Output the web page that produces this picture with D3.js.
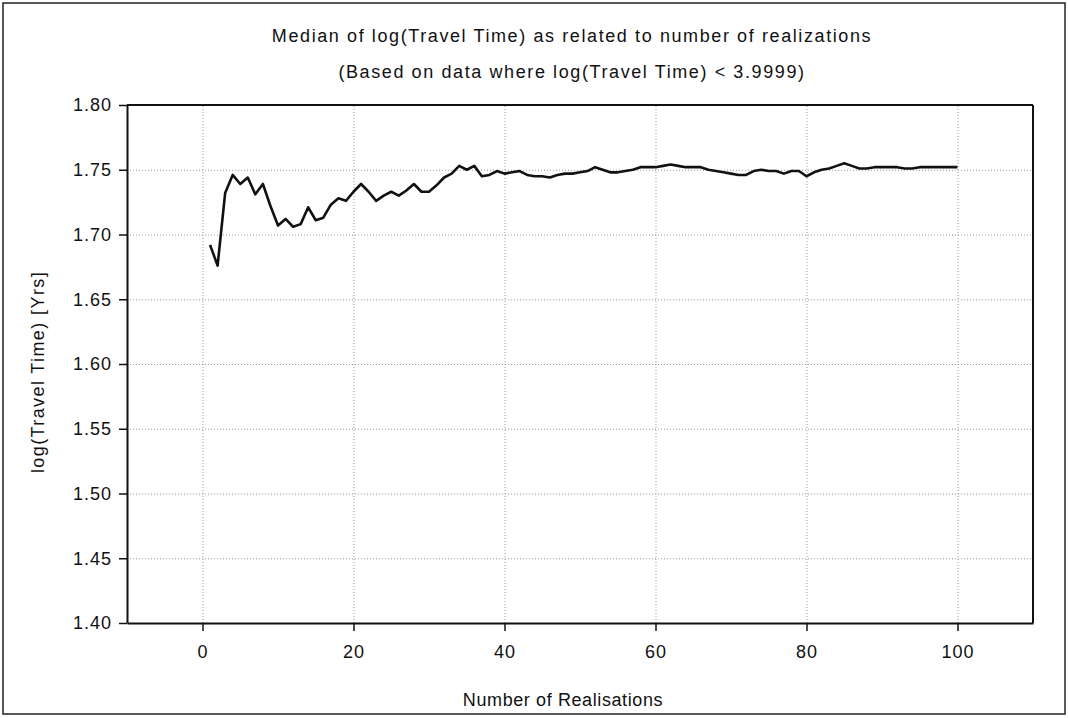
<!DOCTYPE html>
<html>
<head>
<meta charset="utf-8">
<script src="https://cdnjs.cloudflare.com/ajax/libs/d3/7.8.5/d3.min.js"></script>
<style>
	body { margin: 0; background: #fff; }
	text { font-family: "Liberation Sans", Arial, sans-serif; fill: #111; }
</style>
</head>
<body>
<div id="chart"></div>
<script>
//-------------------------------------
// data
//-------------------------------------
var realisations = d3.range(1, 101);

var medianLogTime = [
	1.692, 1.676, 1.732, 1.746, 1.739, 1.744, 1.731, 1.739, 1.722, 1.707,
	1.712, 1.706, 1.708, 1.721, 1.711, 1.713, 1.723, 1.728, 1.726, 1.733,
	1.739, 1.733, 1.726, 1.730, 1.733, 1.730, 1.734, 1.739, 1.733, 1.733,
	1.738, 1.744, 1.747, 1.753, 1.750, 1.753, 1.745, 1.746, 1.749, 1.747,
	1.748, 1.749, 1.746, 1.745, 1.745, 1.744, 1.746, 1.747, 1.747, 1.748,
	1.749, 1.752, 1.750, 1.748, 1.748, 1.749, 1.750, 1.752, 1.752, 1.752,
	1.753, 1.754, 1.753, 1.752, 1.752, 1.752, 1.750, 1.749, 1.748, 1.747,
	1.746, 1.746, 1.749, 1.750, 1.749, 1.749, 1.747, 1.749, 1.749, 1.745,
	1.748, 1.750, 1.751, 1.753, 1.755, 1.753, 1.751, 1.751, 1.752, 1.752,
	1.752, 1.752, 1.751, 1.751, 1.752, 1.752, 1.752, 1.752, 1.752, 1.752
];

var xTicks = [0, 20, 40, 60, 80, 100];
var yTicks = [1.40, 1.45, 1.50, 1.55, 1.60, 1.65, 1.70, 1.75, 1.80];

var titleLines = [
	"Median of log(Travel Time) as related to number of realizations",
	"(Based on data where log(Travel Time) < 3.9999)"
];
var xTitle = "Number of Realisations";
var yTitle = "log(Travel Time) [Yrs]";

//-------------------------------------
// field
//-------------------------------------
var width = 1068;
var height = 718;
var margin = { top: 105, right: 35, bottom: 95, left: 127 };

var svg = d3.select("#chart")
	.append("svg")
	.attr("width", width)
	.attr("height", height)
	.style("background", "#fff");

// outer frame
svg.append("rect")
	.attr("x", 3).attr("y", 3)
	.attr("width", width - 6).attr("height", height - 7)
	.style("fill", "none")
	.style("stroke", "#222")
	.style("stroke-width", 1.5);

var x = d3.scaleLinear()
	.domain([-10, 110])
	.range([margin.left, width - margin.right]);

var y = d3.scaleLinear()
	.domain([1.40, 1.80])
	.range([height - margin.bottom, margin.top]);

//-------------------------------------
// grid
//-------------------------------------
svg.append("g")
	.attr("transform", "translate(0," + y(1.40) + ")")
	.call(d3.axisBottom(x).tickValues(xTicks).tickSize(-(y(1.40) - y(1.80))).tickFormat(""))
	.call(function(g){ g.select(".domain").remove(); })
	.selectAll("line")
	.style("stroke", "#999")
	.style("stroke-dasharray", "1,2");

svg.append("g")
	.attr("transform", "translate(" + x(-10) + ",0)")
	.call(d3.axisLeft(y).tickValues(yTicks.slice(1, -1)).tickSize(-(x(110) - x(-10))).tickFormat(""))
	.call(function(g){ g.select(".domain").remove(); })
	.selectAll("line")
	.style("stroke", "#999")
	.style("stroke-dasharray", "1,2");

//-------------------------------------
// axes
//-------------------------------------
var xAxis = svg.append("g")
	.attr("transform", "translate(0," + y(1.40) + ")")
	.call(d3.axisBottom(x).tickValues(xTicks).tickSize(8).tickPadding(14).tickSizeOuter(0));

var yAxis = svg.append("g")
	.attr("transform", "translate(" + x(-10) + ",0)")
	.call(d3.axisLeft(y).tickValues(yTicks).tickFormat(d3.format(".2f")).tickSize(8).tickPadding(7).tickSizeOuter(0));

[xAxis, yAxis].forEach(function(g){
	g.select(".domain").style("stroke", "#111").style("stroke-width", 2);
	g.selectAll(".tick line").style("stroke", "#111").style("stroke-width", 1.5);
	g.selectAll(".tick text")
		.style("font-size", "18px")
		.style("letter-spacing", "1px")
		.style("fill", "#111")
		.style("font-family", "'Liberation Sans', Arial, sans-serif");
});

// top and right edges of the plot box
svg.append("line")
	.attr("x1", x(-10)).attr("x2", x(110))
	.attr("y1", y(1.80)).attr("y2", y(1.80))
	.style("stroke", "#111").style("stroke-width", 2);

svg.append("line")
	.attr("x1", x(110)).attr("x2", x(110))
	.attr("y1", y(1.80)).attr("y2", y(1.40))
	.style("stroke", "#111").style("stroke-width", 2);

//-------------------------------------
// line
//-------------------------------------
var line = d3.line()
	.x(function(d, i){ return x(realisations[i]); })
	.y(function(d){ return y(d); });

svg.append("path")
	.datum(medianLogTime)
	.attr("d", line)
	.style("fill", "none")
	.style("stroke", "#111")
	.style("stroke-width", 2.6)
	.style("stroke-linejoin", "round");

//-------------------------------------
// titles
//-------------------------------------
svg.selectAll(".title")
	.data(titleLines)
	.enter()
	.append("text")
	.attr("class", "title")
	.attr("x", 572)
	.attr("y", function(d, i){ return 42 + i * 36; })
	.attr("text-anchor", "middle")
	.style("font-size", "18px")
	.style("letter-spacing", "1.6px")
	.text(function(d){ return d; });

svg.append("text")
	.attr("x", 563)
	.attr("y", 706)
	.attr("text-anchor", "middle")
	.style("font-size", "18px")
	.style("letter-spacing", "0.6px")
	.text(xTitle);

svg.append("text")
	.attr("transform", "translate(44,372) rotate(-90)")
	.attr("text-anchor", "middle")
	.style("font-size", "18px")
	.style("letter-spacing", "1.4px")
	.text(yTitle);
</script>
</body>
</html>
